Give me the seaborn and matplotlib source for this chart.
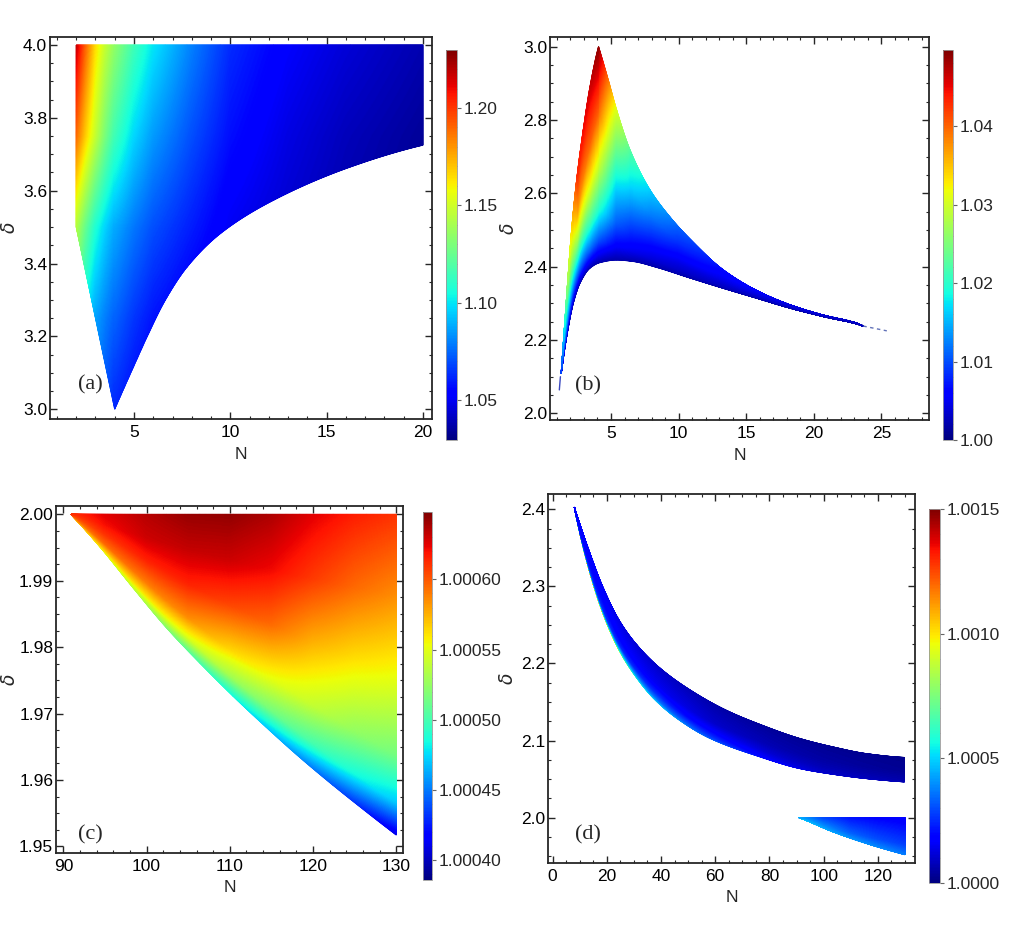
import numpy as np
import matplotlib
matplotlib.use("Agg")
import matplotlib as mpl
import matplotlib.pyplot as plt
from matplotlib.ticker import MultipleLocator, FormatStrFormatter
import seaborn as sns

# ---------------- panel (a) ----------------
A_LOWER_N = [2.0, 4.0, 4.97, 5.75, 6.62, 7.75, 9.48, 12.25, 16.23, 20.0]
A_LOWER_D = [3.5, 3.0, 3.116, 3.207, 3.299, 3.39, 3.482, 3.574, 3.665, 3.725]
A_LOWER_BREAKS = [4.0]
A_UPPER_N = [2.0, 20.0]
A_UPPER_D = [4.0, 4.0]
A_GRID_N = [2, 2.5, 3, 3.5, 4, 5, 6, 8, 10, 13, 16, 20]
A_GRID_D = [3.0, 3.25, 3.5, 3.75, 4.0]
A_VALUES = [
    [1.110, 1.095, 1.080, 1.070, 1.062, 1.055, 1.050, 1.045, 1.040, 1.035, 1.032, 1.030],
    [1.120, 1.100, 1.087, 1.080, 1.074, 1.065, 1.058, 1.050, 1.045, 1.040, 1.035, 1.031],
    [1.145, 1.125, 1.108, 1.097, 1.088, 1.078, 1.070, 1.060, 1.050, 1.043, 1.037, 1.032],
    [1.190, 1.168, 1.148, 1.130, 1.115, 1.097, 1.085, 1.070, 1.057, 1.047, 1.040, 1.034],
    [1.218, 1.190, 1.165, 1.148, 1.135, 1.115, 1.100, 1.080, 1.063, 1.052, 1.045, 1.038],
]
A_RANGE = [1.0294, 1.2298]
A_TICKS = [1.05, 1.10, 1.15, 1.20]

# ---------------- panel (b) ----------------
B_UPPER_N = [1.32, 1.60, 1.84, 2.09, 2.46, 2.95, 3.45, 4.08, 4.8, 5.42, 6.41,
             7.89, 9.37, 10.85, 13.31, 15.78, 18.24, 20.7, 23.17, 23.66]
B_UPPER_D = [2.109, 2.255, 2.38, 2.50, 2.636, 2.773, 2.891, 3.0, 2.909, 2.827, 2.718,
             2.609, 2.535, 2.475, 2.391, 2.335, 2.296, 2.268, 2.246, 2.238]
B_UPPER_BREAKS = [4.08]
B_LOWER_N = [1.32, 1.72, 2.21, 2.71, 3.45, 4.19, 5.42, 6.65, 8.38, 10.85, 13.31, 15.78,
             18.24, 20.7, 23.17, 23.66]
B_LOWER_D = [2.109, 2.209, 2.30, 2.355, 2.396, 2.411, 2.418, 2.414, 2.398, 2.369, 2.341, 2.314,
             2.287, 2.264, 2.244, 2.238]
B_GRID_N = [1.32, 1.8, 2.5, 3.4, 4.08, 5.4, 6.5, 8, 10, 13, 18, 23.66]
B_GRID_T = [0.0, 0.1, 0.25, 0.45, 0.7, 1.0]
B_VALUES = [
    [1.004, 1.002, 1.002, 1.002, 1.002, 1.002, 1.002, 1.002, 1.002, 1.002, 1.002, 1.002],
    [1.005, 1.006, 1.009, 1.011, 1.010, 1.006, 1.005, 1.004, 1.0033, 1.003, 1.0025, 1.002],
    [1.006, 1.011, 1.018, 1.021, 1.020, 1.011, 1.008, 1.006, 1.0045, 1.0037, 1.003, 1.0025],
    [1.007, 1.016, 1.028, 1.031, 1.030, 1.016, 1.012, 1.009, 1.0065, 1.0047, 1.0035, 1.0028],
    [1.008, 1.021, 1.037, 1.040, 1.040, 1.023, 1.017, 1.0125, 1.0088, 1.0057, 1.004, 1.003],
    [1.009, 1.027, 1.043, 1.046, 1.049, 1.031, 1.022, 1.016, 1.011, 1.0068, 1.0045, 1.003],
]
B_TAIL_N = [23.66, 25.4]
B_TAIL_D = [2.238, 2.225]
B_STUB_N = [1.18, 1.26]
B_STUB_D = [2.064, 2.100]
B_RANGE = [1.0, 1.0497]
B_TICKS = [1.00, 1.01, 1.02, 1.03, 1.04]

# ---------------- panel (c) ----------------
C_LOWER_N = [90.92, 94.4, 98.4, 102.4, 106.4, 110.4, 114.4, 118.4, 122.4, 126.4, 130.0]
C_LOWER_D = [2.0, 1.9951, 1.9889, 1.9829, 1.9776, 1.9726, 1.9679, 1.9634, 1.9592, 1.9552, 1.9517]
C_UPPER_N = [90.92, 130.0]
C_UPPER_D = [2.0, 2.0]
C_GRID_N = [90.92, 95, 100, 105, 110, 115, 120, 125, 130]
C_GRID_T = [0.0, 0.1, 0.25, 0.5, 0.75, 1.0]
C_VALUES = [
    [1.000570, 1.000550, 1.000530, 1.000505, 1.000485, 1.000468, 1.000450, 1.000432, 1.000410],
    [1.000580, 1.000570, 1.000560, 1.000548, 1.000530, 1.000515, 1.000500, 1.000485, 1.000470],
    [1.000590, 1.000595, 1.000590, 1.000585, 1.000565, 1.000552, 1.000540, 1.000525, 1.000515],
    [1.000600, 1.000610, 1.000615, 1.000615, 1.000605, 1.000595, 1.000575, 1.000562, 1.000553],
    [1.000605, 1.000620, 1.000630, 1.000632, 1.000630, 1.000622, 1.000608, 1.000595, 1.000585],
    [1.000610, 1.000625, 1.000635, 1.000642, 1.000643, 1.000637, 1.000625, 1.000616, 1.000610],
]
C_RANGE = [1.000386, 1.000648]
C_TICKS = [1.00040, 1.00045, 1.00050, 1.00055, 1.00060]

# ---------------- panel (d) ----------------
D_UPPER_N = [8.0, 12.66, 18.8, 24.9, 31.1, 39.6, 51.9, 64.2, 76.4, 91.2, 103.4, 115.7, 129.8]
D_UPPER_D = [2.403, 2.354, 2.297, 2.254, 2.224, 2.194, 2.163, 2.139, 2.121, 2.1026, 2.0917, 2.083, 2.078]
D_LOWER_N = [8.0, 12.66, 18.8, 24.9, 31.1, 37.2, 45.8, 58.0, 76.4, 91.2, 103.4, 115.7, 129.8]
D_LOWER_D = [2.403, 2.332, 2.263, 2.215, 2.181, 2.155, 2.129, 2.103, 2.079, 2.0636, 2.0562, 2.0506, 2.0463]
D_GRID_N = [8, 12.66, 18.8, 24.9, 31.1, 40, 50, 60, 80, 100, 130]
D_GRID_T = [0.0, 0.03, 0.1, 0.25, 0.5, 1.0]
D_VALUES = [
    [1.00150, 1.00130, 1.00110, 1.00090, 1.00060, 1.00050, 1.00040, 1.00035, 1.00020, 1.00012, 1.00008],
    [1.00080, 1.00080, 1.00070, 1.00060, 1.00050, 1.00045, 1.00035, 1.00030, 1.00018, 1.00010, 1.00007],
    [1.00040, 1.00040, 1.00040, 1.00045, 1.00040, 1.00035, 1.00030, 1.00025, 1.00015, 1.00009, 1.00006],
    [1.00025, 1.00025, 1.00025, 1.00025, 1.00025, 1.00025, 1.00020, 1.00018, 1.00011, 1.00007, 1.00005],
    [1.00020, 1.00020, 1.00020, 1.00018, 1.00017, 1.00015, 1.00013, 1.00010, 1.00007, 1.00005, 1.00003],
    [1.00018, 1.00018, 1.00016, 1.00014, 1.00012, 1.00010, 1.00008, 1.00006, 1.00004, 1.00003, 1.00002],
]
D_TRI_GRID_N = [90.92, 100, 110, 120, 130]
D_TRI_GRID_T = [0.0, 0.3, 1.0]
D_TRI_VALUES = [
    [1.00050, 1.00045, 1.00042, 1.00040, 1.00038],
    [1.00048, 1.00040, 1.00033, 1.00030, 1.00028],
    [1.00045, 1.00030, 1.00022, 1.00019, 1.00017],
]
D_RANGE = [1.0, 1.0015]
D_TICKS = [1.0000, 1.0005, 1.0010, 1.0015]

# ---------------- style ----------------
sns.set_theme(style="ticks")
plt.rcParams["font.family"] = ["Liberation Sans", "DejaVu Sans"]
plt.rcParams["mathtext.fontset"] = "dejavusans"
try:
    CMAP = sns.color_palette("jet", as_cmap=True)
except Exception:
    CMAP = mpl.colormaps["jet"]

FS = 12.5
FRAME = "#262626"


def _edge(h0, h1, m0, m1):
    d = ((2 * h0 + h1) * m0 - h0 * m1) / (h0 + h1)
    if np.sign(d) != np.sign(m0):
        d = 0.0
    elif np.sign(m0) != np.sign(m1) and abs(d) > 3 * abs(m0):
        d = 3 * m0
    return d


def pchip(x, y, xq):
    """Monotone cubic curve through the read boundary points."""
    x = np.asarray(x, float)
    y = np.asarray(y, float)
    xq = np.asarray(xq, float)
    if len(x) < 3:
        return np.interp(xq, x, y)
    h = np.diff(x)
    m = np.diff(y) / h
    n = len(x)
    d = np.zeros(n)
    for k in range(1, n - 1):
        if m[k - 1] * m[k] <= 0:
            d[k] = 0.0
        else:
            w1 = 2 * h[k] + h[k - 1]
            w2 = h[k] + 2 * h[k - 1]
            d[k] = (w1 + w2) / (w1 / m[k - 1] + w2 / m[k])
    d[0] = _edge(h[0], h[1], m[0], m[1])
    d[-1] = _edge(h[-1], h[-2], m[-1], m[-2])
    k = np.clip(np.searchsorted(x, xq, side="right") - 1, 0, n - 2)
    s = np.clip((xq - x[k]) / h[k], 0, 1)
    h00 = 2 * s ** 3 - 3 * s ** 2 + 1
    h10 = s ** 3 - 2 * s ** 2 + s
    h01 = -2 * s ** 3 + 3 * s ** 2
    h11 = s ** 3 - s ** 2
    return h00 * y[k] + h10 * h[k] * d[k] + h01 * y[k + 1] + h11 * h[k] * d[k + 1]


def boundary(xs, ys, xq, breaks=()):
    xs = np.asarray(xs, float)
    ys = np.asarray(ys, float)
    out = np.interp(xq, xs, ys)
    edges = [xs[0]] + list(breaks) + [xs[-1]]
    for a, b in zip(edges[:-1], edges[1:]):
        sel = (xs >= a) & (xs <= b)
        q = (xq >= a) & (xq <= b)
        out[q] = pchip(xs[sel], ys[sel], xq[q])
    return out


def bilinear(xn, yn, z, X, Y):
    xn = np.asarray(xn, float)
    yn = np.asarray(yn, float)
    z = np.asarray(z, float)
    i = np.clip(np.searchsorted(xn, X, side="right") - 1, 0, len(xn) - 2)
    j = np.clip(np.searchsorted(yn, Y, side="right") - 1, 0, len(yn) - 2)
    tx = np.clip((X - xn[i]) / (xn[i + 1] - xn[i]), 0, 1)
    ty = np.clip((Y - yn[j]) / (yn[j + 1] - yn[j]), 0, 1)
    return (z[j, i] * (1 - tx) * (1 - ty) + z[j, i + 1] * tx * (1 - ty)
            + z[j + 1, i] * (1 - tx) * ty + z[j + 1, i + 1] * tx * ty)


def fill_region(ax, lo_n, lo_d, hi_n, hi_d, grid_n, grid_y, values, norm, coord="t",
                lo_breaks=(), hi_breaks=()):
    n0 = max(min(lo_n), min(hi_n))
    n1 = min(max(lo_n), max(hi_n))
    extra = [v for v in list(lo_n) + list(hi_n) if n0 <= v <= n1]
    nm = np.union1d(np.linspace(n0, n1, 700), extra)
    lo = boundary(lo_n, lo_d, nm, lo_breaks)
    hi = boundary(hi_n, hi_d, nm, hi_breaks)
    t = np.linspace(0, 1, 200)
    NN, TT = np.meshgrid(nm, t)
    DD = lo[None, :] + TT * (hi - lo)[None, :]
    Y = TT if coord == "t" else DD
    V = bilinear(grid_n, grid_y, values, NN, Y)
    ax.pcolormesh(NN, DD, V, cmap=CMAP, norm=norm, shading="gouraud")


def style_axes(ax, xlim, ylim, xmaj, xmin, ymaj, ymin, xfmt, yfmt, label, lpos, ylab_x):
    ax.set_xlim(xlim)
    ax.set_ylim(ylim)
    ax.xaxis.set_major_locator(MultipleLocator(xmaj))
    ax.xaxis.set_minor_locator(MultipleLocator(xmin))
    ax.yaxis.set_major_locator(MultipleLocator(ymaj))
    ax.yaxis.set_minor_locator(MultipleLocator(ymin))
    ax.xaxis.set_major_formatter(FormatStrFormatter(xfmt))
    ax.yaxis.set_major_formatter(FormatStrFormatter(yfmt))
    ax.tick_params(which="both", direction="in", top=True, right=True, color=FRAME,
                   labelsize=FS, labelcolor="black")
    ax.tick_params(which="major", length=5, width=1.0)
    ax.tick_params(which="minor", length=2.5, width=0.8)
    ax.tick_params(axis="x", which="major", pad=4)
    ax.tick_params(axis="y", which="major", pad=2)
    for s in ax.spines.values():
        s.set_color(FRAME)
        s.set_linewidth(1.3)
    ax.set_xlabel("N", fontsize=FS, labelpad=5)
    ax.set_ylabel(r"$\delta$", fontsize=FS + 1)
    ax.yaxis.set_label_coords(ylab_x, 0.5)
    ax.text(lpos[0], lpos[1], label, transform=ax.transAxes, ha="center", va="center",
            fontsize=16, family=["Liberation Serif", "DejaVu Serif"])
    ax.set_facecolor("white")


def add_cbar(fig, rect, norm, ticks, fmt, minor):
    cax = fig.add_axes(rect)
    sm = mpl.cm.ScalarMappable(norm=norm, cmap=CMAP)
    cb = fig.colorbar(sm, cax=cax)
    cb.set_ticks(ticks, labels=[fmt % v for v in ticks])
    cb.ax.yaxis.set_minor_locator(MultipleLocator(minor))
    cb.ax.tick_params(which="major", direction="out", length=3, width=0.8, color="#666666",
                      labelsize=FS, pad=2)
    cb.ax.tick_params(which="minor", direction="in", length=3, width=0.6, color="#777777")
    cb.outline.set_linewidth(0.6)
    cb.outline.set_edgecolor("#999999")
    return cb


W, H = 1027, 925
fig = plt.figure(figsize=(W / 100, H / 100), dpi=100)


def rect(l, r, t, b):
    return [l / W, 1 - b / H, (r - l) / W, (b - t) / H]


# (a)
ax_a = fig.add_axes(rect(50, 432, 37, 419))
norm_a = mpl.colors.Normalize(*A_RANGE)
fill_region(ax_a, A_LOWER_N, A_LOWER_D, A_UPPER_N, A_UPPER_D, A_GRID_N, A_GRID_D, A_VALUES,
            norm_a, coord="d", lo_breaks=A_LOWER_BREAKS)
style_axes(ax_a, (0.64, 20.47), (2.973, 4.022), 5, 1, 0.2, 0.05, "%d", "%.1f", "(a)",
           (0.105, 0.089), -0.082)
add_cbar(fig, rect(446, 457, 50, 440), norm_a, A_TICKS, "%.2f", 0.01)

# (b)
ax_b = fig.add_axes(rect(550, 929, 37, 420))
norm_b = mpl.colors.Normalize(*B_RANGE)
fill_region(ax_b, B_LOWER_N, B_LOWER_D, B_UPPER_N, B_UPPER_D, B_GRID_N, B_GRID_T, B_VALUES,
            norm_b, hi_breaks=B_UPPER_BREAKS)
ax_b.plot(B_TAIL_N, B_TAIL_D, color="#6272b8", lw=1.0, ls=(0, (2.5, 2.5)))
ax_b.plot(B_STUB_N, B_STUB_D, color="#3a48c0", lw=1.0)
style_axes(ax_b, (0.49, 28.52), (1.982, 3.026), 5, 1, 0.2, 0.05, "%d", "%.1f", "(b)",
           (0.101, 0.09), -0.085)
add_cbar(fig, rect(943, 953, 50, 440), norm_b, B_TICKS, "%.2f", 0.002)

# (c)
ax_c = fig.add_axes(rect(56, 403, 506, 853))
norm_c = mpl.colors.Normalize(*C_RANGE)
fill_region(ax_c, C_LOWER_N, C_LOWER_D, C_UPPER_N, C_UPPER_D, C_GRID_N, C_GRID_T, C_VALUES, norm_c)
style_axes(ax_c, (89.12, 130.8), (1.949, 2.00125), 10, 2, 0.01, 0.0025, "%d", "%.2f", "(c)",
           (0.098, 0.053), -0.108)
add_cbar(fig, rect(423, 432, 512, 880), norm_c, C_TICKS, "%.5f", 0.00001)

# (d)
ax_d = fig.add_axes(rect(548, 915, 494, 863))
norm_d = mpl.colors.Normalize(*D_RANGE)
fill_region(ax_d, D_LOWER_N, D_LOWER_D, D_UPPER_N, D_UPPER_D, D_GRID_N, D_GRID_T, D_VALUES, norm_d)
fill_region(ax_d, C_LOWER_N, C_LOWER_D, C_UPPER_N, C_UPPER_D, D_TRI_GRID_N, D_TRI_GRID_T,
            D_TRI_VALUES, norm_d)
style_axes(ax_d, (-1.7, 133.7), (1.941, 2.420), 20, 5, 0.1, 0.025, "%d", "%.1f", "(d)",
           (0.11, 0.075), -0.084)
add_cbar(fig, rect(929, 940, 509, 883), norm_d, D_TICKS, "%.4f", 0.0001)

fig.savefig("out.png", dpi=100, facecolor="white")
